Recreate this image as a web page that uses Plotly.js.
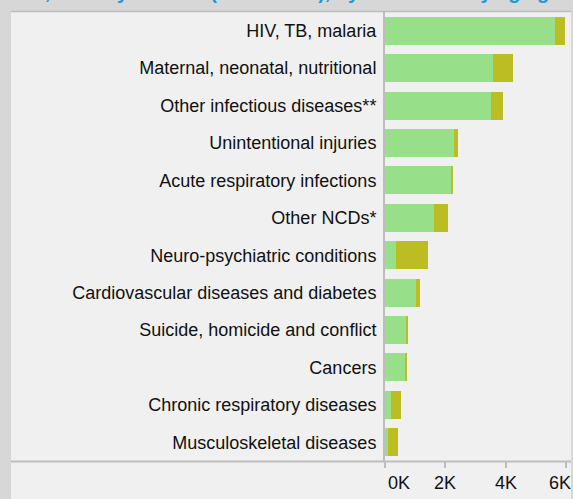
<!DOCTYPE html>
<html>
<head>
<meta charset="utf-8">
<script src="https://cdn.plot.ly/plotly-3.0.1.min.js"></script>
<style>html,body{margin:0;padding:0;background:#f0f0f0;}#chart{width:573px;height:499px;}</style>
</head>
<body>
<div id="chart"></div>
<script>
// Categories listed top to bottom
const categories = [
  "HIV, TB, malaria",
  "Maternal, neonatal, nutritional",
  "Other infectious diseases**",
  "Unintentional injuries",
  "Acute respiratory infections",
  "Other NCDs*",
  "Neuro-psychiatric conditions",
  "Cardiovascular diseases and diabetes",
  "Suicide, homicide and conflict",
  "Cancers",
  "Chronic respiratory diseases",
  "Musculoskeletal diseases"
];
const seriesA = [5630, 3560, 3495, 2270, 2170, 1610, 355, 1015, 685, 650, 190, 90];
const seriesB = [330, 660, 395, 135, 65, 465, 1055, 130, 65, 65, 330, 330];
const tickVals = [0, 2000, 4000, 6000];
const tickText = ["0K", "2K", "4K", "6K"];
const tickShift = [14, 0, 0, -6];
const titleText = "<b>Deaths, 10–24 year olds (thousands), by cause and by age group</b>";

const W = 573, H = 499;
const L = 385, R = 2, T = 12, B = 38;
const pw = W - L - R, ph = H - T - B;
const px = v => (v - L) / pw;
const py = v => (H - B - v) / ph;

const traces = [
  {type: "bar", orientation: "h", y: categories, x: seriesA, marker: {color: "#98df8a"}, hoverinfo: "x+y"},
  {type: "bar", orientation: "h", y: categories, x: seriesB, marker: {color: "#bcbd22"}, hoverinfo: "x+y"}
];

const annotations = tickVals.map((v, i) => ({
  x: v, xref: "x", y: 0, yref: "paper", yanchor: "middle", xanchor: "center",
  yshift: -22, xshift: tickShift[i], text: tickText[i], showarrow: false,
  font: {family: "Liberation Sans, Arial, sans-serif", size: 18, color: "#111"}
}));
annotations.push({
  x: px(286), xref: "paper", y: py(4.5), yref: "paper", xanchor: "center", yanchor: "bottom",
  text: titleText, showarrow: false,
  font: {family: "Liberation Sans, Arial, sans-serif", size: 20, color: "#1a9ad6"}
});

const layout = {
  width: W, height: H,
  margin: {l: L, r: R, t: T, b: B, pad: 0},
  paper_bgcolor: "#f0f0f0",
  plot_bgcolor: "#f0f0f0",
  barmode: "stack",
  bargap: 0.25,
  showlegend: false,
  font: {family: "Liberation Sans, Arial, sans-serif", size: 18, color: "#111"},
  xaxis: {
    range: [0, 6150], tickvals: tickVals, showticklabels: false,
    ticks: "outside", ticklen: 6, tickwidth: 2, tickcolor: "#bdbdbd",
    showgrid: false, zeroline: false, showline: false, fixedrange: true
  },
  yaxis: {
    autorange: "reversed", ticks: "", showgrid: false, zeroline: false,
    showline: true, linecolor: "#bdbdbd", linewidth: 2,
    ticklabelstandoff: 3, fixedrange: true
  },
  annotations: annotations,
  shapes: [
    {type: "rect", xref: "paper", yref: "paper", x0: px(0), x1: px(11), y0: py(H), y1: py(0), fillcolor: "#d7d7d7", line: {width: 0}, layer: "below"},
    {type: "rect", xref: "paper", yref: "paper", x0: px(0), x1: px(W), y0: py(11), y1: py(0), fillcolor: "#d7d7d7", line: {width: 0}, layer: "below"},
    {type: "rect", xref: "paper", yref: "paper", x0: px(571), x1: px(W), y0: py(H), y1: py(0), fillcolor: "#d7d7d7", line: {width: 0}, layer: "below"},
    {type: "line", xref: "paper", yref: "paper", x0: px(11), x1: px(571), y0: py(11.5), y1: py(11.5), line: {color: "#bdbdbd", width: 1.5}},
    {type: "line", xref: "paper", yref: "paper", x0: px(11), x1: px(571), y0: py(461.5), y1: py(461.5), line: {color: "#bdbdbd", width: 2}}
  ]
};

Plotly.newPlot("chart", traces, layout, {displayModeBar: false, staticPlot: true});
</script>
</body>
</html>
